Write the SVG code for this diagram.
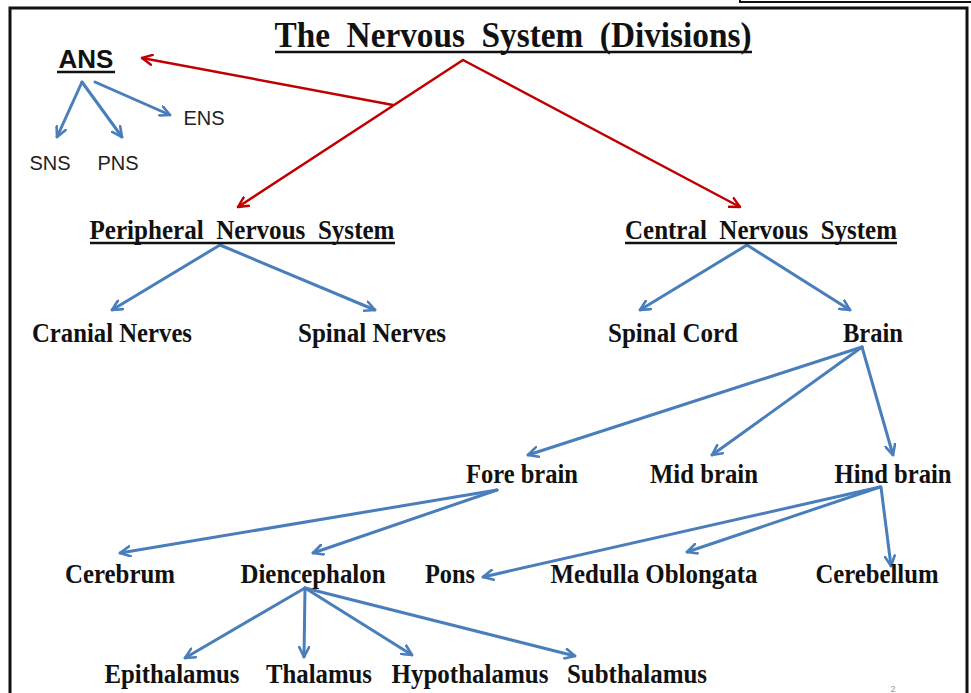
<svg xmlns="http://www.w3.org/2000/svg" width="971" height="693" viewBox="0 0 971 693">
<defs>
<style>
.n{font-family:"Liberation Serif","Times New Roman",serif;font-weight:bold;font-size:27px;fill:#111;text-anchor:middle}
.s{font-family:"Liberation Sans",Arial,sans-serif;font-size:20px;fill:#222;text-anchor:middle}
.b{fill:none;stroke:#4A7EBB;stroke-width:3;stroke-linecap:round}
.r{fill:none;stroke:#C00000;stroke-width:2.5;stroke-linecap:round}
.u{stroke:#111;stroke-width:2.5}
.pre{white-space:pre}
</style>
<marker id="ab" viewBox="0 0 12 12" refX="11" refY="6" markerWidth="12" markerHeight="12" markerUnits="userSpaceOnUse" orient="auto">
<polyline points="1,1 11,6 1,11" fill="none" stroke="#4A7EBB" stroke-width="2.6" stroke-linecap="round" stroke-linejoin="round"/>
</marker>
<marker id="ar" viewBox="0 0 12 12" refX="11" refY="6" markerWidth="12" markerHeight="12" markerUnits="userSpaceOnUse" orient="auto">
<polyline points="1,1 11,6 1,11" fill="none" stroke="#C00000" stroke-width="2.4" stroke-linecap="round" stroke-linejoin="round"/>
</marker>
</defs>
<rect width="971" height="693" fill="#fff"/>
<rect x="740" y="-10" width="240" height="12" fill="none" stroke="#111" stroke-width="2"/>
<rect x="10" y="8" width="957" height="700" fill="none" stroke="#111" stroke-width="3"/>

<g id="title">
<text class="pre" xml:space="preserve" x="513" y="47" font-family="'Liberation Serif','Times New Roman',serif" font-weight="bold" font-size="36" fill="#111" text-anchor="middle" textLength="477" lengthAdjust="spacingAndGlyphs">The  Nervous  System  (Divisions)</text>
<line class="u" x1="275" y1="52" x2="752" y2="52"/>
</g>

<g id="connectors">
<line class="r" x1="463" y1="60" x2="238" y2="207" marker-end="url(#ar)"/>
<line class="r" x1="463" y1="60" x2="740" y2="207" marker-end="url(#ar)"/>
<line class="r" x1="393" y1="105" x2="142" y2="58" marker-end="url(#ar)"/>

<line class="b" x1="82" y1="82" x2="57" y2="137" marker-end="url(#ab)"/>
<line class="b" x1="82" y1="82" x2="122" y2="137" marker-end="url(#ab)"/>
<line class="b" x1="95" y1="82" x2="170" y2="115" marker-end="url(#ab)"/>

<line class="b" x1="220" y1="245" x2="112" y2="310" marker-end="url(#ab)"/>
<line class="b" x1="220" y1="245" x2="375" y2="310" marker-end="url(#ab)"/>
<line class="b" x1="747" y1="245" x2="640" y2="310" marker-end="url(#ab)"/>
<line class="b" x1="747" y1="245" x2="850" y2="310" marker-end="url(#ab)"/>

<line class="b" x1="862" y1="347" x2="528" y2="455" marker-end="url(#ab)"/>
<line class="b" x1="862" y1="347" x2="712" y2="455" marker-end="url(#ab)"/>
<line class="b" x1="862" y1="347" x2="893" y2="455" marker-end="url(#ab)"/>

<line class="b" x1="497" y1="490" x2="120" y2="553" marker-end="url(#ab)"/>
<line class="b" x1="497" y1="490" x2="313" y2="553" marker-end="url(#ab)"/>

<line class="b" x1="880" y1="487" x2="483" y2="577" marker-end="url(#ab)"/>
<line class="b" x1="880" y1="487" x2="687" y2="552" marker-end="url(#ab)"/>
<line class="b" x1="881" y1="487" x2="891" y2="566" marker-end="url(#ab)"/>

<line class="b" x1="305" y1="588" x2="185" y2="658" marker-end="url(#ab)"/>
<line class="b" x1="305" y1="588" x2="304" y2="657" marker-end="url(#ab)"/>
<line class="b" x1="305" y1="588" x2="412" y2="655" marker-end="url(#ab)"/>
<line class="b" x1="305" y1="588" x2="575" y2="656" marker-end="url(#ab)"/>
</g>

<g id="ans">
<text x="86" y="68" font-family="'Liberation Sans',Arial,sans-serif" font-weight="bold" font-size="26" fill="#111" text-anchor="middle">ANS</text>
<line class="u" x1="57" y1="72" x2="115" y2="72"/>
</g>
<g id="sns"><text class="s" x="50" y="170">SNS</text></g>
<g id="pns-a"><text class="s" x="118" y="170">PNS</text></g>
<g id="ens"><text class="s" x="204" y="125">ENS</text></g>

<g id="peripheral">
<text class="n pre" xml:space="preserve" x="242" y="239" textLength="305" lengthAdjust="spacingAndGlyphs">Peripheral  Nervous  System</text>
<line class="u" x1="90" y1="243" x2="395" y2="243"/>
</g>
<g id="central">
<text class="n pre" xml:space="preserve" x="761" y="239" textLength="272" lengthAdjust="spacingAndGlyphs">Central  Nervous  System</text>
<line class="u" x1="625" y1="243" x2="897" y2="243"/>
</g>

<g id="cranial"><text class="n" x="112" y="342" textLength="160" lengthAdjust="spacingAndGlyphs">Cranial Nerves</text></g>
<g id="spinal-nerves"><text class="n" x="372" y="342" textLength="148" lengthAdjust="spacingAndGlyphs">Spinal Nerves</text></g>
<g id="spinal-cord"><text class="n" x="673" y="342" textLength="130" lengthAdjust="spacingAndGlyphs">Spinal Cord</text></g>
<g id="brain"><text class="n" x="873" y="342" textLength="60" lengthAdjust="spacingAndGlyphs">Brain</text></g>

<g id="fore"><text class="n" x="522" y="483" textLength="112" lengthAdjust="spacingAndGlyphs">Fore brain</text></g>
<g id="mid"><text class="n" x="704" y="483" textLength="108" lengthAdjust="spacingAndGlyphs">Mid brain</text></g>
<g id="hind"><text class="n" x="893" y="483" textLength="117" lengthAdjust="spacingAndGlyphs">Hind brain</text></g>

<g id="cerebrum"><text class="n" x="120" y="583" textLength="110" lengthAdjust="spacingAndGlyphs">Cerebrum</text></g>
<g id="diencephalon"><text class="n" x="313" y="583" textLength="145" lengthAdjust="spacingAndGlyphs">Diencephalon</text></g>
<g id="pons"><text class="n" x="450" y="583" textLength="50" lengthAdjust="spacingAndGlyphs">Pons</text></g>
<g id="medulla"><text class="n" x="654" y="583" textLength="207" lengthAdjust="spacingAndGlyphs">Medulla Oblongata</text></g>
<g id="cerebellum"><text class="n" x="877" y="583" textLength="123" lengthAdjust="spacingAndGlyphs">Cerebellum</text></g>

<g id="epithalamus"><text class="n" x="172" y="683" textLength="135" lengthAdjust="spacingAndGlyphs">Epithalamus</text></g>
<g id="thalamus"><text class="n" x="319" y="683" textLength="106" lengthAdjust="spacingAndGlyphs">Thalamus</text></g>
<g id="hypothalamus"><text class="n" x="470" y="683" textLength="157" lengthAdjust="spacingAndGlyphs">Hypothalamus</text></g>
<g id="subthalamus"><text class="n" x="637" y="683" textLength="140" lengthAdjust="spacingAndGlyphs">Subthalamus</text></g>

<text x="893" y="692" font-family="'Liberation Sans',Arial,sans-serif" font-size="9" fill="#999" text-anchor="middle">2</text>
</svg>
